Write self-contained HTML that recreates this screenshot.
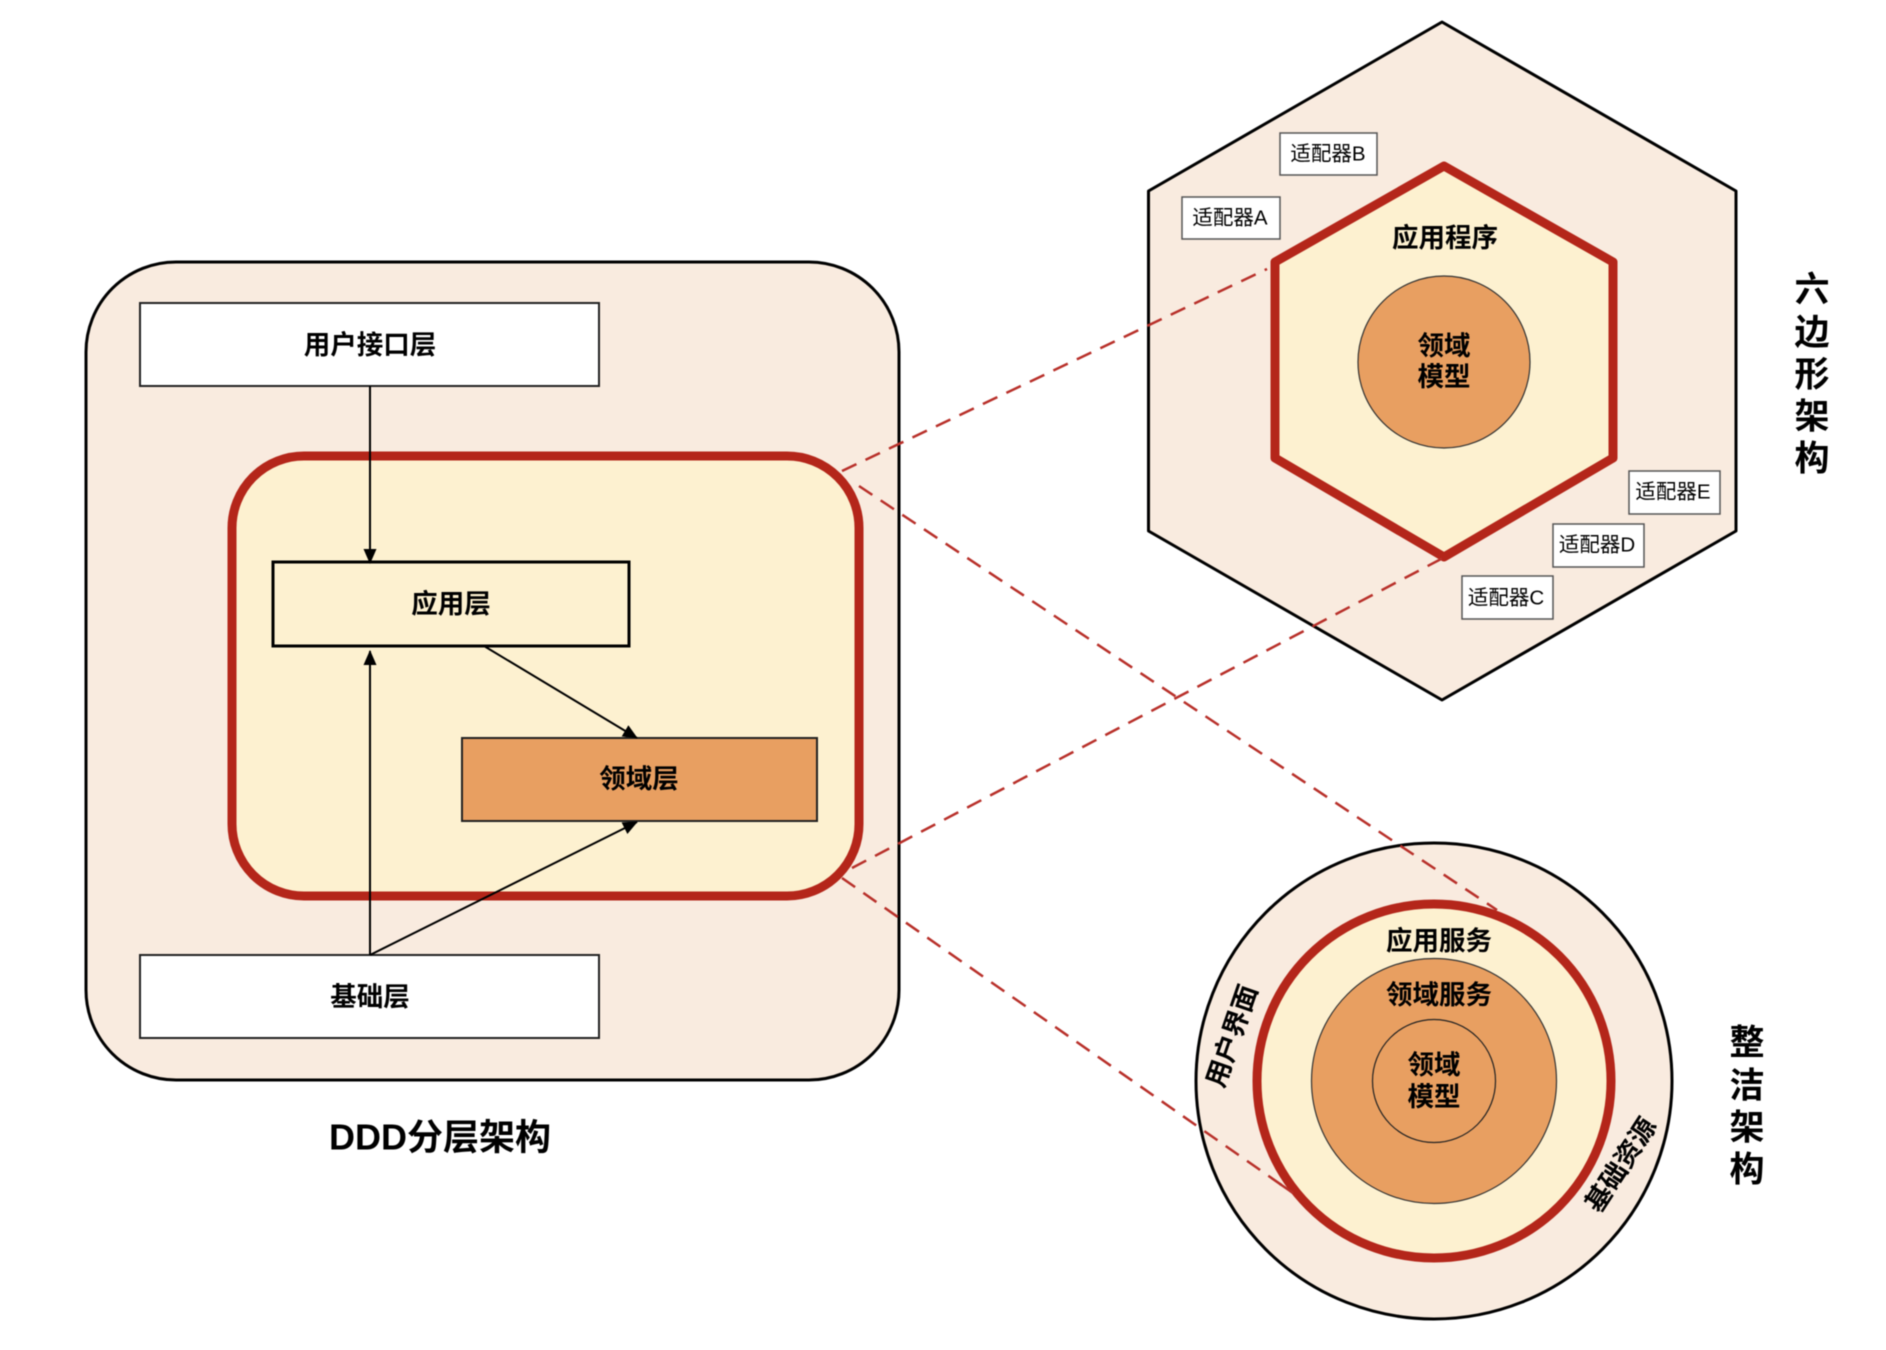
<!DOCTYPE html>
<html lang="zh">
<head>
<meta charset="utf-8">
<title>DDD分层架构</title>
<style>
html,body{margin:0;padding:0;background:#fff;width:1886px;height:1350px;overflow:hidden}
svg{display:block;filter:blur(.6px)}
text{font-family:"Liberation Sans","Noto Sans CJK SC",sans-serif;fill:#000;text-anchor:middle;dominant-baseline:central}
.b{font-weight:700}
</style>
</head>
<body>
<svg width="1886" height="1350" viewBox="0 0 1886 1350" xmlns="http://www.w3.org/2000/svg">
<defs>
<marker id="a" markerUnits="userSpaceOnUse" markerWidth="16" markerHeight="14" refX="14" refY="6.5" orient="auto">
<path d="M0 0L15 6.5L0 13Z" fill="#000"/>
</marker>
</defs>

<!-- DDD layered -->
<rect x="86" y="262" width="813" height="818" rx="90" ry="90" fill="#f9ebdf" stroke="#000" stroke-width="3"/>
<rect x="232" y="456" width="627" height="440" rx="72" ry="72" fill="#fdf1d0" stroke="#b4261a" stroke-width="9"/>
<rect x="140" y="303" width="459" height="83" fill="#fff" stroke="#222" stroke-width="2"/>
<text class="b" x="370" y="345" font-size="26.500">用户接口层</text>
<rect x="273" y="562" width="356" height="84" fill="#fdf1d0" stroke="#000" stroke-width="3"/>
<text class="b" x="451" y="604" font-size="26.500">应用层</text>
<rect x="462" y="738" width="355" height="83" fill="#e89f61" stroke="#222" stroke-width="2"/>
<text class="b" x="639" y="779" font-size="26.500">领域层</text>
<rect x="140" y="955" width="459" height="83" fill="#fff" stroke="#222" stroke-width="2"/>
<text class="b" x="370" y="997" font-size="26.500">基础层</text>
<g stroke="#000" stroke-width="2" fill="none">
<line x1="370" y1="386" x2="370" y2="563" marker-end="url(#a)"/>
<line x1="370" y1="955" x2="370" y2="651" marker-end="url(#a)"/>
<line x1="484" y1="646" x2="637" y2="738" marker-end="url(#a)"/>
<line x1="370" y1="955" x2="637" y2="822" marker-end="url(#a)"/>
</g>
<text class="b" x="440" y="1137" font-size="36">DDD分层架构</text>

<!-- Hexagonal -->
<polygon points="1442,22 1736,191 1736,531 1442,700 1148.500,531 1148.500,191" fill="#f9ebdf" stroke="#000" stroke-width="3" stroke-linejoin="round"/>
<polygon points="1444,166 1613,262 1613,458 1444,557 1275,458 1275,262" fill="#fdf1d0" stroke="#b4261a" stroke-width="9" stroke-linejoin="round"/>
<circle cx="1444" cy="362" r="86" fill="#e89f61" stroke="#333" stroke-width="1.2"/>
<text class="b" x="1445" y="238" font-size="26.500">应用程序</text>
<text class="b" x="1444" y="346" font-size="26.500">领域</text>
<text class="b" x="1444" y="377" font-size="26.500">模型</text>
<g fill="#fff" stroke="#555" stroke-width="1.5">
<rect x="1280" y="133" width="97" height="42"/>
<rect x="1182" y="197" width="98" height="42"/>
<rect x="1629" y="471" width="91" height="43"/>
<rect x="1553" y="524" width="91" height="43"/>
<rect x="1462" y="576" width="91" height="43"/>
</g>
<g font-size="20.500">
<text x="1328" y="154">适配器B</text>
<text x="1230" y="218">适配器A</text>
<text x="1673" y="492">适配器E</text>
<text x="1597" y="545">适配器D</text>
<text x="1506" y="598">适配器C</text>
</g>
<g font-size="35">
<text class="b" x="1812" y="290">六</text>
<text class="b" x="1812" y="333">边</text>
<text class="b" x="1812" y="375">形</text>
<text class="b" x="1812" y="417">架</text>
<text class="b" x="1812" y="459">构</text>
</g>

<!-- Clean -->
<circle cx="1434" cy="1081" r="238" fill="#f9ebdf" stroke="#000" stroke-width="3"/>
<circle cx="1434" cy="1081" r="177" fill="#fdf1d0" stroke="#b4261a" stroke-width="9"/>
<circle cx="1434" cy="1081" r="122.500" fill="#e89f61" stroke="#333" stroke-width="1.2"/>
<circle cx="1434" cy="1081" r="61.500" fill="#e89f61" stroke="#222" stroke-width="1.2"/>
<text class="b" x="1439" y="941" font-size="26.500">应用服务</text>
<text class="b" x="1439" y="995" font-size="26.500">领域服务</text>
<text class="b" x="1434" y="1065" font-size="26.500">领域</text>
<text class="b" x="1434" y="1097" font-size="26.500">模型</text>
<text class="b" font-size="26.500" transform="translate(1232 1036) rotate(-71)">用户界面</text>
<text class="b" font-size="26.500" transform="translate(1621 1165) rotate(-57)">基础资源</text>
<g font-size="35">
<text class="b" x="1747" y="1043">整</text>
<text class="b" x="1747" y="1086">洁</text>
<text class="b" x="1747" y="1128">架</text>
<text class="b" x="1747" y="1170">构</text>
</g>

<!-- Dashed connectors -->
<g stroke="#b8302a" stroke-width="2.500" stroke-dasharray="16 10" fill="none">
<line x1="842" y1="471" x2="1267" y2="269"/>
<line x1="852" y1="868" x2="1443" y2="558"/>
<line x1="859" y1="486" x2="1497" y2="910"/>
<line x1="842" y1="878" x2="1293" y2="1193"/>
<line x1="1280" y1="1184" x2="1293" y2="1193"/>
</g>
</svg>
</body>
</html>
